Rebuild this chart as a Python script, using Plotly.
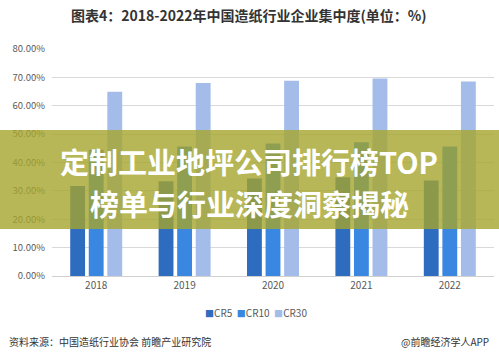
import plotly.graph_objects as go

years = ["2018", "2019", "2020", "2021", "2022"]
cr5 = [31.7, 33.4, 34.3, 34.8, 33.6]
cr10 = [44.5, 45.6, 46.7, 47.1, 45.6]
cr30 = [64.9, 68.0, 68.8, 69.6, 68.5]
series_names = ["CR5", "CR10", "CR30"]
colors = ["#2e6cbf", "#3a87e2", "#a3bcea"]
y_ticks = [0, 10, 20, 30, 40, 50, 60, 70, 80]
y_ticktext = ["0.00%", "10.00%", "20.00%", "30.00%", "40.00%", "50.00%", "60.00%", "70.00%", "80.00%"]

title = "图表4：2018-2022年中国造纸行业企业集中度(单位：%)"
source = "资料来源：中国造纸行业协会 前瞻产业研究院"
credit = "@前瞻经济学人APP"
banner_l1 = "定制工业地坪公司排行榜TOP"
banner_l2 = "榜单与行业深度洞察揭秘"

font_cjk = "Microsoft YaHei, Noto Sans CJK SC, sans-serif"

W, H = 499, 359
ML, MR, MT, MB = 52, 5, 48, 83


def px_x(x):
    return (x - ML) / (W - ML - MR)


def px_y(y):
    return (H - MB - y) / (H - MT - MB)


fig = go.Figure()
for name, vals, c in zip(series_names, [cr5, cr10, cr30], colors):
    fig.add_trace(go.Bar(x=years, y=vals, name=name, marker=dict(color=c, line=dict(width=0))))

fig.update_layout(
    width=W, height=H,
    margin=dict(l=ML, r=MR, t=MT, b=MB),
    paper_bgcolor="white", plot_bgcolor="white",
    barmode="group", bargap=0.37, bargroupgap=0.2,
    font=dict(family=font_cjk, color="#595959", size=10),
    showlegend=False,
    xaxis=dict(showgrid=False, showline=True, linecolor="#d0d0d0", linewidth=1,
               ticks="", tickfont=dict(size=10, color="#595959")),
    yaxis=dict(range=[0, 80.3], tickvals=y_ticks, ticktext=y_ticktext,
               showgrid=True, gridcolor="#d9d9d9", gridwidth=1, zeroline=False,
               ticks="", tickfont=dict(size=9.5, color="#595959"), ticklabelstandoff=6),
)

# Legend built as text (compact, like the reference)
legend_parts = []
for name, c in zip(series_names, colors):
    legend_parts.append("<span style='color:%s;font-size:9px'>■</span>%s" % (c, name))
fig.add_annotation(text="&nbsp;&nbsp;".join(legend_parts), x=px_x(256), y=px_y(312),
                   xref="paper", yref="paper", showarrow=False,
                   font=dict(size=10, color="#595959", family=font_cjk),
                   xanchor="center", yanchor="middle")

fig.add_annotation(text="<b>" + title + "</b>", x=px_x(249), y=px_y(15), xref="paper", yref="paper",
                   showarrow=False, font=dict(size=14, color="#333333", family=font_cjk),
                   xanchor="center", yanchor="middle")
fig.add_annotation(text=source, x=px_x(7), y=px_y(341), xref="paper", yref="paper", showarrow=False,
                   font=dict(size=10, color="#333333", family=font_cjk), xanchor="left", yanchor="middle")
fig.add_annotation(text=credit, x=px_x(491), y=px_y(341), xref="paper", yref="paper", showarrow=False,
                   font=dict(size=10, color="#333333", family=font_cjk), xanchor="right", yanchor="middle")

fig.add_shape(type="rect", xref="paper", yref="paper", x0=px_x(0), x1=px_x(499),
              y0=px_y(229), y1=px_y(130), fillcolor="rgba(165,165,45,0.8)", line=dict(width=0), layer="above")

fig.add_annotation(text="<b>" + banner_l1 + "</b>", x=px_x(249), y=px_y(161),
                   xref="paper", yref="paper", showarrow=False,
                   font=dict(size=29, color="white", family="Noto Sans CJK SC"),
                   xanchor="center", yanchor="middle")
fig.add_annotation(text="<b>" + banner_l2 + "</b>", x=px_x(249), y=px_y(203),
                   xref="paper", yref="paper", showarrow=False,
                   font=dict(size=29, color="white", family="Noto Sans CJK SC"),
                   xanchor="center", yanchor="middle")

fig.write_html("out.html")
